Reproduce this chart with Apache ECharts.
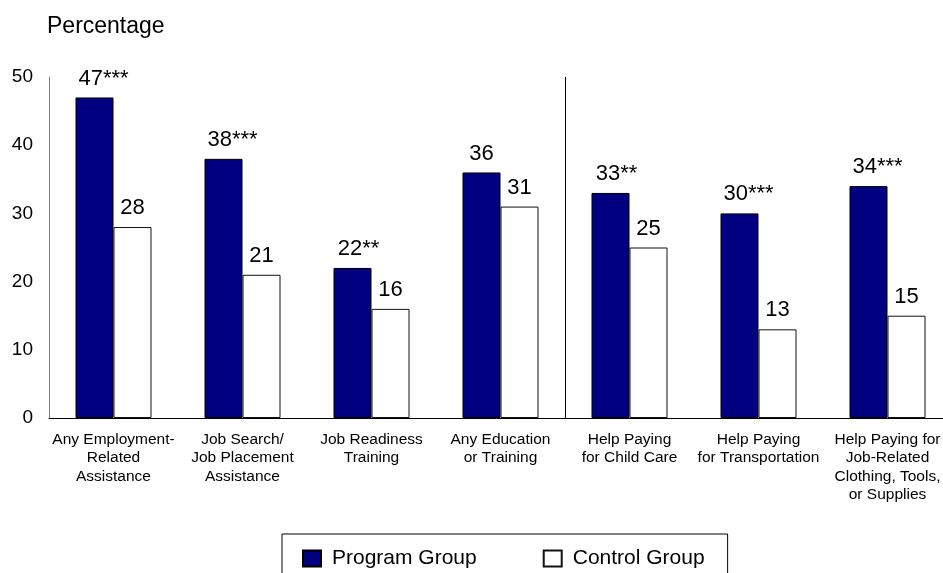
<!DOCTYPE html>
<html>
<head>
<meta charset="utf-8">
<script src="https://cdn.jsdelivr.net/npm/echarts@6/dist/echarts.min.js"></script>
<style>html,body{margin:0;padding:0;background:#fff;}#c{width:943px;height:573px;}</style>
</head>
<body>
<div id="c"></div>
<script>
var categories = [
  "Any Employment-\nRelated\nAssistance",
  "Job Search/\nJob Placement\nAssistance",
  "Job Readiness\nTraining",
  "Any Education\nor Training",
  "Help Paying\nfor Child Care",
  "Help Paying\nfor Transportation",
  "Help Paying for\nJob-Related\nClothing, Tools,\nor Supplies"
];
var programValues = [47, 38, 22, 36, 33, 30, 34];
var programStars = ["***", "***", "**", "", "**", "***", "***"];
var controlValues = [28, 21, 16, 31, 25, 13, 15];
var yTicks = [0, 10, 20, 30, 40, 50];
// divider between the 4 employment/education measures and the 3 support measures
var dividerAfter = 4;

var FONT = "Liberation Sans, Arial, sans-serif";
var chart = echarts.init(document.getElementById('c'));

var programData = programValues.map(function (v, i) {
  var s = programStars[i];
  return {
    value: v,
    label: { offset: [s.length * 3, 0], formatter: v + s }
  };
});

chart.setOption({
  animation: false,
  title: {
    text: 'Percentage', left: 47, top: 15, padding: 0,
    textStyle: { fontFamily: FONT, fontSize: 23, fontWeight: 'normal', color: '#000' }
  },
  legend: {
    left: 282, top: 534,
    padding: [14, 23, 16, 20],
    borderColor: '#000', borderWidth: 1,
    icon: 'rect',
    itemWidth: 18, itemHeight: 16, itemGap: 66,
    textStyle: { fontFamily: FONT, fontSize: 21, color: '#000', padding: [0, 0, 0, 6] },
    data: ['Program Group', 'Control Group']
  },
  grid: { left: 49, top: 77, width: 903, height: 341, containLabel: false, outerBoundsMode: 'none' },
  xAxis: [{
    type: 'category',
    data: categories,
    boundaryGap: true,
    axisLine: { show: true, lineStyle: { color: '#000', width: 1 } },
    axisTick: { show: false },
    splitLine: { show: false },
    axisLabel: {
      interval: 0, margin: 12, fontFamily: FONT, fontSize: 15.5, lineHeight: 18.5, color: '#000', align: 'center'
    }
  }, {
    type: 'value', show: false, min: 0, max: categories.length
  }],
  yAxis: {
    type: 'value', min: yTicks[0], max: yTicks[yTicks.length - 1], interval: 10,
    axisLine: { show: true, lineStyle: { color: '#808080', width: 1 } },
    axisTick: { show: false },
    splitLine: { show: false },
    axisLabel: { margin: 16, fontFamily: FONT, fontSize: 19, color: '#000' }
  },
  series: [
    {
      name: 'Program Group', type: 'bar', barWidth: 38, barGap: '0%',
      itemStyle: { color: '#000080', borderColor: '#000', borderWidth: 1 },
      label: { show: true, position: 'top', distance: 8, fontFamily: FONT, fontSize: 22, color: '#000' },
      data: programData
    },
    {
      name: 'Control Group', type: 'bar', barWidth: 38, barGap: '0%',
      itemStyle: { color: '#ffffff', borderColor: '#111', borderWidth: 1 },
      label: { show: true, position: 'top', distance: 8, fontFamily: FONT, fontSize: 22, color: '#000' },
      data: controlValues
    },
    {
      name: 'divider', type: 'line', xAxisIndex: 1, data: [], silent: true,
      markLine: {
        silent: true, symbol: 'none', label: { show: false },
        lineStyle: { color: '#000', width: 1, type: 'solid' },
        data: [{ xAxis: dividerAfter }]
      }
    }
  ]
});
</script>
</body>
</html>
